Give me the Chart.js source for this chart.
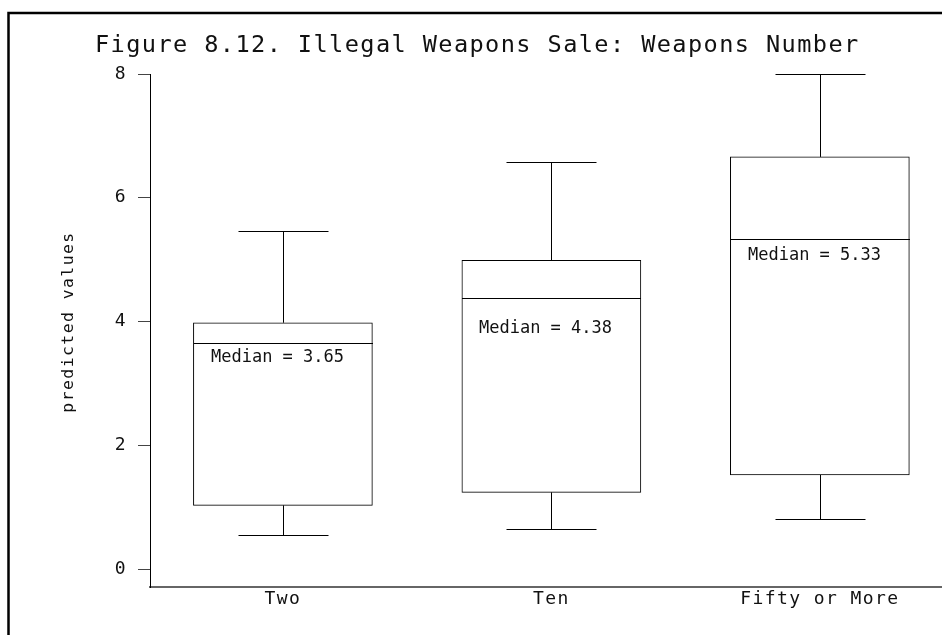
<!DOCTYPE html>
<html><head><meta charset="utf-8">
<script src="https://cdn.jsdelivr.net/npm/chart.js@4/dist/chart.umd.min.js"></script>
<style>html,body{margin:0;padding:0;background:#fff;overflow:hidden}#wrap{width:942px;height:635px;position:relative}</style>
</head><body><div id="wrap"><canvas id="c" width="942" height="635"></canvas></div>
<script>
const categories = ['Two', 'Ten', 'Fifty or More'];
const whiskerLow = [0.55, 0.65, 0.81];
const boxLow = [1.03, 1.24, 1.52];
const medians = [3.65, 4.38, 5.33];
const boxHigh = [3.98, 4.99, 6.66];
const whiskerHigh = [5.47, 6.58, 8.0];
const medianLabelY = [3.42, 3.88, 5.07];
const yTicks = [0, 2, 4, 6, 8];
const titleText = 'Figure 8.12. Illegal Weapons Sale: Weapons Number';
const yTitleText = 'predicted values';

const MONO = '"DejaVu Sans Mono", "Liberation Mono", monospace';
const BOX_W = 179, CAP_W = 90;

const boxData = categories.map((c, i) => ({ x: i + 1, y: [boxLow[i], boxHigh[i]] }));

const spacingPlugin = {
  id: 'spacing',
  beforeLayout(chart) { chart.ctx.letterSpacing = '1.4px'; },
  beforeDraw(chart) { chart.ctx.letterSpacing = '1.4px'; }
};

const boxExtras = {
  id: 'boxExtras',
  afterDatasetsDraw(chart) {
    const ctx = chart.ctx, xs = chart.scales.x, ys = chart.scales.y;
    ctx.save();
    ctx.strokeStyle = '#000';
    ctx.lineWidth = 1;
    categories.forEach((c, i) => {
      const cx = Math.round(xs.getPixelForValue(i + 1)) + 0.5;
      const yMin = Math.round(ys.getPixelForValue(whiskerLow[i])) + 0.5;
      const yQ1 = ys.getPixelForValue(boxLow[i]);
      const yMed = Math.round(ys.getPixelForValue(medians[i])) + 0.5;
      const yQ3 = ys.getPixelForValue(boxHigh[i]);
      const yMax = Math.round(ys.getPixelForValue(whiskerHigh[i])) + 0.5;
      ctx.beginPath();
      ctx.moveTo(cx, yQ3); ctx.lineTo(cx, yMax);
      ctx.moveTo(cx - CAP_W / 2, yMax); ctx.lineTo(cx + CAP_W / 2, yMax);
      ctx.moveTo(cx, yQ1); ctx.lineTo(cx, yMin);
      ctx.moveTo(cx - CAP_W / 2, yMin); ctx.lineTo(cx + CAP_W / 2, yMin);
      ctx.moveTo(cx - BOX_W / 2, yMed); ctx.lineTo(cx + BOX_W / 2, yMed);
      ctx.stroke();
      ctx.letterSpacing = '0px';
      ctx.font = '17px ' + MONO;
      ctx.fillStyle = '#111';
      ctx.textAlign = 'center';
      ctx.textBaseline = 'middle';
      ctx.fillText('Median = ' + medians[i].toFixed(2), cx - 6, ys.getPixelForValue(medianLabelY[i]));
    });
    ctx.restore();
  }
};

const framePlugin = {
  id: 'frame',
  afterDraw(chart) {
    const ctx = chart.ctx;
    ctx.save();
    ctx.strokeStyle = '#000';
    ctx.lineWidth = 2.5;
    ctx.beginPath();
    ctx.moveTo(8.5, 635); ctx.lineTo(8.5, 13); ctx.lineTo(942, 13);
    ctx.stroke();
    // chart title
    ctx.letterSpacing = '1.4px';
    ctx.font = '23.6px ' + MONO;
    ctx.fillStyle = '#111';
    ctx.textAlign = 'left';
    ctx.textBaseline = 'alphabetic';
    ctx.fillText(titleText, 95, 52);
    // y-axis title
    ctx.translate(69, 322);
    ctx.rotate(-Math.PI / 2);
    ctx.font = '16.5px ' + MONO;
    ctx.textAlign = 'center';
    ctx.textBaseline = 'middle';
    ctx.fillText(yTitleText, 0, 0);
    ctx.restore();
  }
};

new Chart(document.getElementById('c'), {
  type: 'bar',
  data: {
    datasets: [{
      data: boxData,
      backgroundColor: '#fff',
      borderColor: '#000',
      borderWidth: 1,
      borderSkipped: false,
      barThickness: BOX_W
    }]
  },
  options: {
    responsive: false,
    animation: false,
    events: [],
    layout: { padding: { left: 0, right: 0, top: 74, bottom: 0 } },
    plugins: {
      legend: { display: false },
      tooltip: { enabled: false },
      title: { display: false }
    },
    scales: {
      x: {
        type: 'linear',
        offset: false,
        bounds: 'ticks',
        min: 0.505,
        max: 3.455,
        afterBuildTicks(scale) { scale.ticks = categories.map((c, i) => ({ value: i + 1 })); },
        afterFit(scale) { scale.height = 48; },
        ticks: {
          autoSkip: false,
          maxRotation: 0,
          padding: 2,
          color: '#111',
          font: { family: MONO, size: 18 },
          callback: (v) => categories[v - 1] || ''
        },
        grid: { display: true, offset: false, drawOnChartArea: false, drawTicks: false, color: 'rgba(0,0,0,0)' },
        border: { display: true, color: '#666', width: 2 }
      },
      y: {
        min: -0.29,
        max: 8,
        afterBuildTicks(scale) { scale.ticks = yTicks.map(v => ({ value: v })); },
        afterFit(scale) { scale.width = 150; },
        ticks: {
          padding: 11,
          color: '#111',
          font: { family: MONO, size: 18 }
        },
        grid: { drawOnChartArea: false, drawTicks: true, tickLength: 12, color: '#444' },
        border: { display: true, color: '#000', width: 1 },
        title: { display: false }
      }
    }
  },
  plugins: [spacingPlugin, boxExtras, framePlugin]
});
</script></body></html>
